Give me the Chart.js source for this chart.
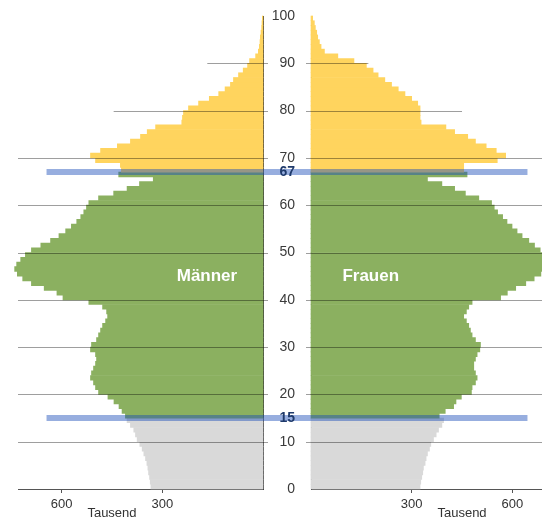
<!DOCTYPE html>
<html><head><meta charset="utf-8">
<script src="https://cdn.jsdelivr.net/npm/chart.js@4"></script>
<style>
html,body{margin:0;padding:0;background:#fff;}
#wrap{position:relative;width:542px;height:519px;overflow:hidden;background:#fff;}
canvas{position:absolute;top:0;}
#left{left:0;}
#right{left:270px;}
</style></head><body>
<div id="wrap"><canvas id="left" width="270" height="519"></canvas><canvas id="right" width="302" height="519"></canvas></div>
<script>
// ---- data ----
const ages = Array.from({length: 100}, (_, i) => i);
const maleThousands = [
 334,336,338,341,343,346,350,355,360,367,
 375,380,385,395,405,410,420,429,444,462,
 490,499,505,514,511,505,499,496,499,514,
 511,496,490,484,478,469,463,466,478,519,
 596,614,652,690,716,732,740,734,722,708,
 690,662,633,608,588,571,555,543,534,526,
 519,490,445,405,368,327,430,422,425,499,
 514,484,434,395,365,345,320,242,240,237,
 222,192,160,132,113,97,88,73,59,46,
 40,22,14,11,9,8,6,4,3,2];
const femaleThousands = [
 325,327,330,333,335,340,343,347,353,357,
 365,373,380,390,395,382,400,425,432,448,
 478,480,490,495,490,485,485,490,495,503,
 505,490,480,475,470,463,455,463,470,480,
 565,585,610,640,665,685,695,697,695,690,
 683,666,649,629,614,599,584,571,556,546,
 538,500,460,428,390,347,465,455,455,555,
 580,552,522,490,467,428,402,328,325,325,
 325,318,300,280,260,240,220,200,185,165,
 128,80,40,30,25,20,17,13,10,5];
const ageTicks = [0,10,20,30,40,50,60,70,80,90,100];
const markerAges = [15, 67];          // working age band limits
const valueTicks = [300, 600];
const gridAges = [10,20,30,40,50,60,70,80,90];
const sideLabels = {left: 'Männer', right: 'Frauen'};
const unitLabel = 'Tausend';

// ---- style ----
const FONT = '"Liberation Sans", Arial, sans-serif';
Chart.defaults.font.family = FONT;
const COL_YOUNG = '#d9d9d9', COL_WORK = '#8bb060', COL_OLD = '#ffd45e';
const colorFor = a => a >= markerAges[1] ? COL_OLD : (a >= markerAges[0] ? COL_WORK : COL_YOUNG);
const X_MAX = 730;
const gridReach = {left: [730,730,730,730,730,730,730,445,166], right: [730,730,730,730,730,730,730,450,171]};
const bandReach = 645;

function overlay(side) {
  return {
    id: 'overlay_' + side,
    afterDatasetsDraw(chart) {
      const {ctx, chartArea: a, scales: {x, y}} = chart;
      ctx.save();
      ctx.strokeStyle = 'rgba(0,0,0,0.38)';
      ctx.lineWidth = 1;
      gridAges.forEach((g, i) => {
        const py = Math.round(y.getPixelForValue(g)) + 0.5;
        const ext = x.getPixelForValue(gridReach[side][i]);
        ctx.beginPath();
        if (side === 'left') { ctx.moveTo(ext, py); ctx.lineTo(a.right + 5, py); }
        else { ctx.moveTo(a.left - 5, py); ctx.lineTo(ext, py); }
        ctx.stroke();
      });
      ctx.strokeStyle = 'rgba(25,75,185,0.45)';
      ctx.lineWidth = 6;
      markerAges.forEach(m => {
        const py = y.getPixelForValue(m);
        const ext = x.getPixelForValue(bandReach);
        ctx.beginPath();
        if (side === 'left') { ctx.moveTo(ext, py); ctx.lineTo(chart.width, py); }
        else { ctx.moveTo(0, py); ctx.lineTo(ext, py); }
        ctx.stroke();
      });
      ctx.fillStyle = '#fff';
      ctx.font = 'bold 17px ' + FONT;
      ctx.textAlign = 'center';
      ctx.textBaseline = 'middle';
      ctx.fillText(sideLabels[side], x.getPixelForValue(side === 'left' ? 167 : 178), y.getPixelForValue(44.9));
      ctx.fillStyle = '#333';
      ctx.font = '13px ' + FONT;
      ctx.textBaseline = 'alphabetic';
      ctx.fillText(unitLabel, x.getPixelForValue(450), a.bottom + 28);
      ctx.restore();
    }
  };
}

function makeChart(id, side, values) {
  const isLeft = side === 'left';
  return new Chart(document.getElementById(id), {
    type: 'bar',
    data: {
      datasets: [{
        data: ages.map((a, i) => ({x: values[i], y: a + 0.5})),
        backgroundColor: ages.map(colorFor),
        borderWidth: 0,
        barPercentage: 1,
        categoryPercentage: 1,
        clip: false
      }]
    },
    options: {
      indexAxis: 'y',
      responsive: false,
      animation: false,
      layout: {padding: isLeft ? {left: 18, right: 7, top: 16, bottom: 0} : {left: 0, right: 16, top: 16, bottom: 0}},
      plugins: {legend: {display: false}, tooltip: {enabled: false}},
      scales: {
        x: {
          type: 'linear', reverse: isLeft, min: 0, max: X_MAX, position: 'bottom',
          afterBuildTicks: s => { s.ticks = valueTicks.map(v => ({value: v})); },
          afterFit: s => { s.height = 30; s.paddingLeft = 0; s.paddingRight = 0; },
          ticks: {autoSkip: false, padding: 4, maxRotation: 0, font: {size: 13}, color: '#333'},
          grid: {display: true, drawOnChartArea: false, drawTicks: true, tickLength: 4, color: '#555'},
          border: {display: true, color: '#555', width: 1}
        },
        y: {
          type: 'linear', min: 0, max: 100, offset: false, position: isLeft ? 'right' : 'left',
          afterBuildTicks: s => { s.ticks = ageTicks.concat(markerAges).map(v => ({value: v})); },
          afterFit: s => { s.width = isLeft ? 0 : 41; s.paddingTop = 0; s.paddingBottom = 0; },
          ticks: {
            display: !isLeft, autoSkip: false, padding: 16, z: 1,
            color: c => markerAges.includes(c.tick && c.tick.value) ? '#1f3a6b' : '#3a3a3a',
            font: c => ({size: 14, weight: markerAges.includes(c.tick && c.tick.value) ? 'bold' : 'normal'})
          },
          grid: {display: false, drawTicks: false},
          border: {display: true, color: '#333', width: 1}
        }
      }
    },
    plugins: [overlay(side)]
  });
}

makeChart('left', 'left', maleThousands);
makeChart('right', 'right', femaleThousands);
</script>
</body></html>
